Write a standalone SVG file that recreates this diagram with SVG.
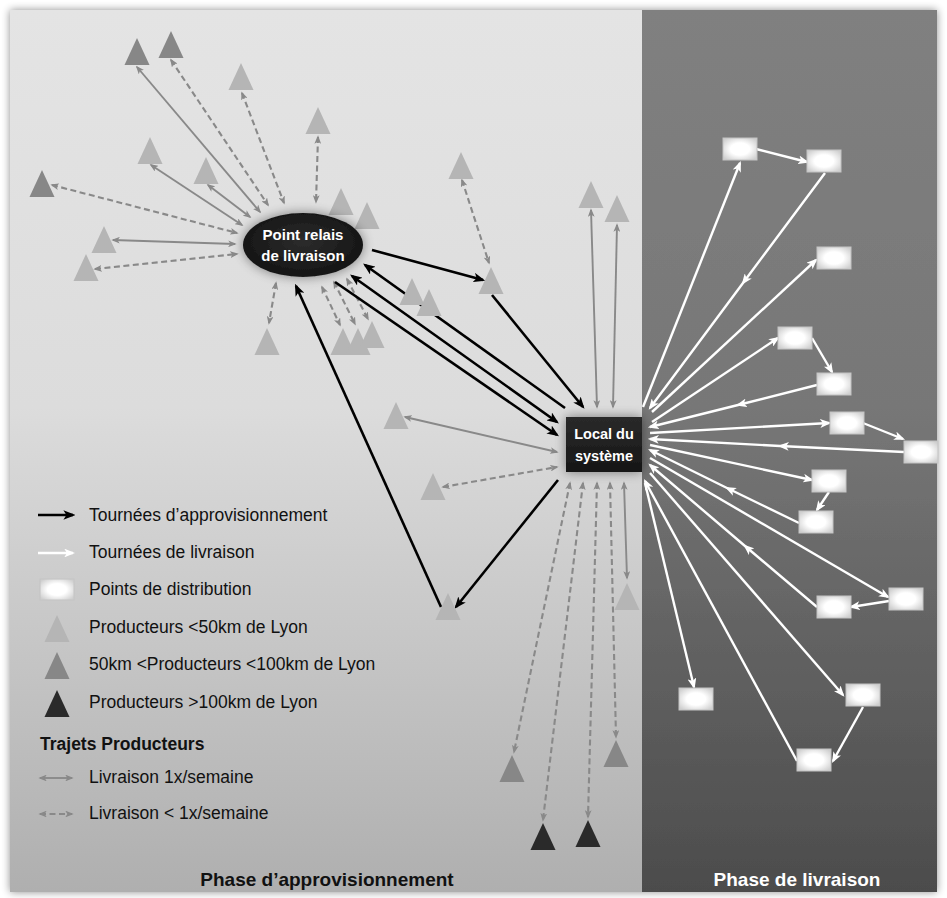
<svg xmlns="http://www.w3.org/2000/svg" width="947" height="898" viewBox="0 0 947 898">
<style>
text{font-family:"Liberation Sans",Arial,sans-serif}
.lg{font-size:17.5px;fill:#111}
.b{font-weight:bold}
.k{stroke:#000;stroke-width:2.6;fill:none;marker-end:url(#mk)}
.k2{marker-start:url(#mk)}
.w{stroke:#fff;stroke-width:2.4;fill:none;marker-end:url(#mw)}
.wm{marker-mid:url(#mw)}
.g{stroke:#898989;stroke-width:1.9;fill:none;marker-start:url(#mg);marker-end:url(#mg)}
.gd{stroke-dasharray:6 3.5;stroke-width:2.1}
.tl{fill:#b5b5b5}
.tm{fill:#878787}
.td{fill:#2a2a2a}
.bx{fill:url(#boxg);stroke:#c4c4c4;stroke-width:1}
.nt{fill:#fff;font-weight:bold;text-anchor:middle}
</style>
<defs>
<linearGradient id="lp" x1="0" y1="0" x2="0" y2="1">
<stop offset="0" stop-color="#e4e4e4"/><stop offset="0.45" stop-color="#dcdcdc"/><stop offset="1" stop-color="#afafaf"/>
</linearGradient>
<linearGradient id="rp" x1="0" y1="0" x2="0" y2="1">
<stop offset="0" stop-color="#808080"/><stop offset="0.45" stop-color="#777"/><stop offset="1" stop-color="#4c4c4c"/>
</linearGradient>
<radialGradient id="elg" cx="0.5" cy="0.45" r="0.6">
<stop offset="0" stop-color="#2c2c2c"/><stop offset="1" stop-color="#121212"/>
</radialGradient>
<linearGradient id="lcg" x1="0" y1="0" x2="0" y2="1">
<stop offset="0" stop-color="#2a2a2a"/><stop offset="1" stop-color="#161616"/>
</linearGradient>
<radialGradient id="boxg" cx="0.5" cy="0.5" r="0.62">
<stop offset="0.45" stop-color="#ffffff"/><stop offset="1" stop-color="#cfcfcf"/>
</radialGradient>
<filter id="psh" x="-3%" y="-3%" width="106%" height="106%">
<feGaussianBlur in="SourceAlpha" stdDeviation="4"/>
<feComponentTransfer><feFuncA type="linear" slope="0.45"/></feComponentTransfer>
<feMerge><feMergeNode/><feMergeNode in="SourceGraphic"/></feMerge>
</filter>
<filter id="glow" x="-40%" y="-50%" width="180%" height="200%">
<feGaussianBlur in="SourceAlpha" stdDeviation="6"/>
<feComponentTransfer><feFuncA type="linear" slope="0.45"/></feComponentTransfer>
<feMerge><feMergeNode/><feMergeNode in="SourceGraphic"/></feMerge>
</filter>
<marker id="mk" viewBox="0 0 10 8" refX="8" refY="4" markerWidth="12" markerHeight="9.6" markerUnits="userSpaceOnUse" orient="auto-start-reverse"><path d="M0,0L10,4L0,8L2.5,4z" fill="#000"/></marker>
<marker id="mw" viewBox="0 0 10 8" refX="8" refY="4" markerWidth="11" markerHeight="8.8" markerUnits="userSpaceOnUse" orient="auto-start-reverse"><path d="M0,0L10,4L0,8L2.5,4z" fill="#fff"/></marker>
<marker id="mg" viewBox="0 0 10 8" refX="8" refY="4" markerWidth="8.5" markerHeight="6.8" markerUnits="userSpaceOnUse" orient="auto-start-reverse"><path d="M0,0L10,4L0,8L2.5,4z" fill="#898989"/></marker>
<path id="tri" d="M0,0L12.5,27L-12.5,27Z"/>
</defs>

<rect width="947" height="898" fill="#fff"/>
<g id="panels" filter="url(#psh)">
<rect x="10" y="10" width="632" height="882" fill="url(#lp)"/>
<rect x="642" y="10" width="295" height="882" fill="url(#rp)"/>
</g>

<g id="connectors">
<g id="producer-links">
<path class="g" d="M137,67L260,212"/>
<path class="g gd" d="M171,60L268,205"/>
<path class="g gd" d="M242,93L284,203"/>
<path class="g gd" d="M318,137L316,202"/>
<path class="g" d="M151,165L242,225"/>
<path class="g" d="M208,185L250,217"/>
<path class="g gd" d="M52,185L237,233"/>
<path class="g" d="M113,240L235,244"/>
<path class="g gd" d="M95,269L237,254"/>
<path class="g gd" d="M276,283L269,323"/>
<path class="g gd" d="M322,287L340,325"/>
<path class="g gd" d="M334,282L355,324"/>
<path class="g gd" d="M347,279L368,319"/>
<path class="g gd" d="M462,180L489,263"/>
<path class="g" d="M591,210L597,407"/>
<path class="g" d="M617,225L613,407"/>
<path class="g" d="M405,417L557,452"/>
<path class="g gd" d="M443,487L557,467"/>
<path class="g gd" d="M570,483L514,752"/>
<path class="g gd" d="M583,483L543,820"/>
<path class="g gd" d="M597,483L588,817"/>
<path class="g gd" d="M610,483L616,737"/>
<path class="g" d="M624,483L627,578"/>
</g>
<g id="supply-tours">
<path class="k" d="M372,250L483,280"/>
<path class="k" d="M492,295L583,407"/>
<path class="k" d="M565,408L365,265"/>
<path class="k k2" d="M352,276L557,422"/>
<path class="k" d="M335,282L557,435"/>
<path class="k" d="M558,480L456,607"/>
<path class="k" d="M441,607L296,286"/>
</g>
<g id="delivery-tours">
<path class="w" d="M643,407L740,163"/>
<path class="w" d="M756,149L807,162"/>
<path class="w wm" d="M825,173L743,283L650,408"/>
<path class="w" d="M652,412L816,260"/>
<path class="w" d="M652,422L778,338"/>
<path class="w" d="M812,338L832,372"/>
<path class="w wm" d="M817,385L738,405L650,427"/>
<path class="w" d="M650,433L829,423"/>
<path class="w" d="M863,423L903,439"/>
<path class="w wm" d="M904,452L780,446L650,439"/>
<path class="w" d="M650,445L812,480"/>
<path class="w" d="M829,492L817,510"/>
<path class="w wm" d="M799,523L727,488L650,450"/>
<path class="w" d="M650,458L888,597"/>
<path class="w" d="M889,601L851,607"/>
<path class="w wm" d="M817,607L745,546L650,465"/>
<path class="w" d="M650,473L843,695"/>
<path class="w" d="M863,707L833,761"/>
<path class="w" d="M797,761L645,481"/>
<path class="w" d="M645,483L694,687"/>
</g>
</g>

<g id="producers">
<use id="p1" href="#tri" x="137" y="38" class="tm"/>
<use id="p2" href="#tri" x="171" y="31" class="tm"/>
<use id="p3" href="#tri" x="241" y="63" class="tl"/>
<use id="p4" href="#tri" x="318" y="107" class="tl"/>
<use id="p5" href="#tri" x="150" y="137" class="tl"/>
<use id="p6" href="#tri" x="206" y="157" class="tl"/>
<use id="p7" href="#tri" x="42" y="170" class="tm"/>
<use id="p8" href="#tri" x="104" y="226" class="tl"/>
<use id="p9" href="#tri" x="86" y="254" class="tl"/>
<use id="p10" href="#tri" x="341" y="188" class="tl"/>
<use id="p11" href="#tri" x="367" y="202" class="tl"/>
<use id="p12" href="#tri" x="461" y="152" class="tl"/>
<use id="p13" href="#tri" x="491" y="267" class="tl"/>
<use id="p14" href="#tri" x="412" y="278" class="tl"/>
<use id="p15" href="#tri" x="429" y="289" class="tl"/>
<use id="p16" href="#tri" x="267" y="328" class="tl"/>
<use id="p17" href="#tri" x="343" y="328" class="tl"/>
<use id="p18" href="#tri" x="358" y="328" class="tl"/>
<use id="p19" href="#tri" x="372" y="321" class="tl"/>
<use id="p20" href="#tri" x="591" y="181" class="tl"/>
<use id="p21" href="#tri" x="617" y="195" class="tl"/>
<use id="p22" href="#tri" x="396" y="402" class="tl"/>
<use id="p23" href="#tri" x="433" y="473" class="tl"/>
<use id="p24" href="#tri" x="448" y="593" class="tl"/>
<use id="p25" href="#tri" x="627" y="583" class="tl"/>
<use id="p26" href="#tri" x="512" y="755" class="tm"/>
<use id="p27" href="#tri" x="616" y="740" class="tm"/>
<use id="p28" href="#tri" x="543" y="823" class="td"/>
<use id="p29" href="#tri" x="588" y="820" class="td"/>
</g>

<g id="point-relais">
<ellipse cx="303" cy="245" rx="60" ry="32" fill="url(#elg)" filter="url(#glow)"/>
<text class="nt" x="303" y="240" font-size="15">Point relais</text>
<text class="nt" x="303" y="261" font-size="15">de livraison</text>
</g>

<g id="local-systeme">
<rect x="566" y="417" width="76" height="55" fill="url(#lcg)" filter="url(#glow)"/>
<text class="nt" x="604" y="439" font-size="14.5">Local du</text>
<text class="nt" x="604" y="461" font-size="14.5">système</text>
</g>

<g id="distribution-points">
<rect id="d1" class="bx" x="723" y="138" width="34" height="22"/>
<rect id="d2" class="bx" x="807" y="150" width="34" height="22"/>
<rect id="d3" class="bx" x="817" y="247" width="34" height="22"/>
<rect id="d4" class="bx" x="778" y="327" width="34" height="22"/>
<rect id="d5" class="bx" x="817" y="373" width="34" height="22"/>
<rect id="d6" class="bx" x="830" y="412" width="34" height="22"/>
<rect id="d7" class="bx" x="904" y="441" width="34" height="22"/>
<rect id="d8" class="bx" x="812" y="470" width="34" height="22"/>
<rect id="d9" class="bx" x="799" y="511" width="34" height="22"/>
<rect id="d10" class="bx" x="889" y="588" width="34" height="22"/>
<rect id="d11" class="bx" x="817" y="596" width="34" height="22"/>
<rect id="d12" class="bx" x="679" y="688" width="34" height="22"/>
<rect id="d13" class="bx" x="846" y="684" width="34" height="22"/>
<rect id="d14" class="bx" x="797" y="749" width="34" height="22"/>
</g>

<g id="legend">
<path d="M38,515L73,515" stroke="#000" stroke-width="2.6" marker-end="url(#mk)"/>
<text class="lg" x="89" y="521">Tournées d’approvisionnement</text>
<path d="M38,553L73,553" stroke="#fff" stroke-width="2.4" marker-end="url(#mw)"/>
<text class="lg" x="89" y="558">Tournées de livraison</text>
<rect class="bx" x="40" y="579" width="34" height="21"/>
<text class="lg" x="89" y="595">Points de distribution</text>
<use href="#tri" x="57" y="615" class="tl"/>
<text class="lg" x="89" y="633">Producteurs &lt;50km de Lyon</text>
<use href="#tri" x="57" y="652" class="tm"/>
<text class="lg" x="89" y="670">50km &lt;Producteurs &lt;100km de Lyon</text>
<use href="#tri" x="57" y="690" class="td"/>
<text class="lg" x="89" y="708">Producteurs &gt;100km de Lyon</text>
<text class="lg b" x="40" y="750" font-size="16.5">Trajets Producteurs</text>
<path class="g" d="M40,778L72,778"/>
<text class="lg" x="89" y="783">Livraison 1x/semaine</text>
<path class="g gd" d="M40,814L72,814"/>
<text class="lg" x="89" y="819">Livraison &lt; 1x/semaine</text>
</g>

<g id="titles">
<text class="b" x="327" y="886" font-size="19" text-anchor="middle" fill="#111">Phase d’approvisionnement</text>
<text class="b" x="797" y="886" font-size="19" text-anchor="middle" fill="#fff">Phase de livraison</text>
</g>
</svg>
